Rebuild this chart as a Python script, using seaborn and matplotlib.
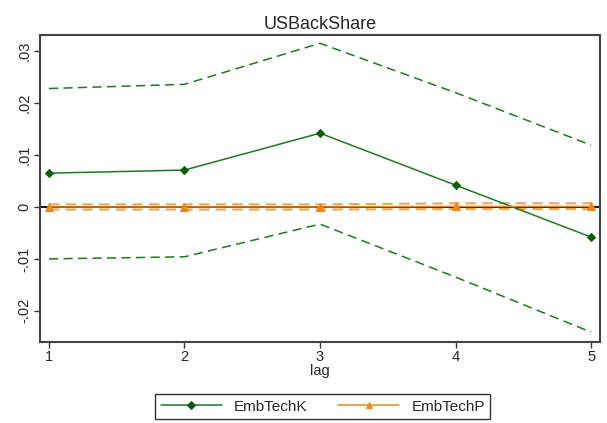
import matplotlib
matplotlib.use("Agg")
import matplotlib.pyplot as plt
import seaborn as sns
import pandas as pd

lag = [1, 2, 3, 4, 5]
k_coef = [0.0065, 0.0071, 0.0142, 0.0042, -0.0058]
k_upper = [0.0228, 0.0236, 0.0315, 0.0220, 0.0119]
k_lower = [-0.0100, -0.0096, -0.0033, -0.0135, -0.0241]
p_coef = [0.0000, 0.0000, 0.0000, 0.0001, 0.0001]
p_upper = [0.0005, 0.0005, 0.0005, 0.0007, 0.0007]
p_lower = [-0.0005, -0.0005, -0.0005, -0.0004, -0.0004]
yticks = [-0.02, -0.01, 0, 0.01, 0.02, 0.03]
ytick_labels = ["-.02", "-.01", "0", ".01", ".02", ".03"]

sns.set_style("white")
plt.rcParams['font.family'] = ['Liberation Sans', 'DejaVu Sans']

green = "#1f7a1f"
dkgreen = "#0b5e0b"
orange = "#e8891c"

fig = plt.figure(figsize=(6.07, 4.23), dpi=100)
ax = fig.add_axes([40/607, 1 - 342/423, 560/607, 307/423])

df = pd.DataFrame({"lag": lag, "kc": k_coef, "ku": k_upper, "kl": k_lower,
                   "pc": p_coef, "pu": p_upper, "pl": p_lower})

ax.axhline(0, color="black", lw=1.3, zorder=1)
for col in ["ku", "kl"]:
    sns.lineplot(data=df, x="lag", y=col, ax=ax, color=green, lw=1.1,
                 linestyle=(0, (6, 3.5)), zorder=2)
for col in ["pu", "pl"]:
    sns.lineplot(data=df, x="lag", y=col, ax=ax, color=orange, lw=1.5,
                 linestyle=(0, (5, 3)), zorder=2, alpha=0.75)
sns.lineplot(data=df, x="lag", y="kc", ax=ax, color=green, lw=1.1, marker="D",
             markersize=4.5, markerfacecolor=dkgreen, markeredgecolor=dkgreen,
             label="EmbTechK", zorder=3)
sns.lineplot(data=df, x="lag", y="pc", ax=ax, color=orange, lw=1.1, marker="^",
             markersize=6, markerfacecolor=orange, markeredgecolor=orange,
             label="EmbTechP", zorder=3)

ax.set_xlim(0.934, 5.066)
ax.set_ylim(-0.026, 0.0331)
ax.set_xticks(lag)
ax.set_xticklabels([str(v) for v in lag], fontsize=10.5)
ax.set_yticks(yticks)
ax.set_yticklabels(ytick_labels, rotation=90, va="center", fontsize=10.5)
ax.tick_params(axis="both", direction="out", length=4, width=1, color="#333333",
               left=True, bottom=True, pad=2)
for s in ax.spines.values():
    s.set_color("#444444")
    s.set_linewidth(1.5)
ax.set_xlabel("lag", fontsize=10.5, labelpad=0)
ax.set_ylabel("")
ax.set_title("USBackShare", fontsize=13, pad=4)

leg = ax.legend(loc="upper center", bbox_to_anchor=(0.505, -0.145), ncol=2,
                frameon=True, fancybox=False, edgecolor="black", fontsize=11,
                handlelength=4.0, columnspacing=2.0, borderpad=0.35,
                markerscale=0.8)
leg.get_frame().set_linewidth(1.0)

fig.savefig("out.png", dpi=100, facecolor="white")
